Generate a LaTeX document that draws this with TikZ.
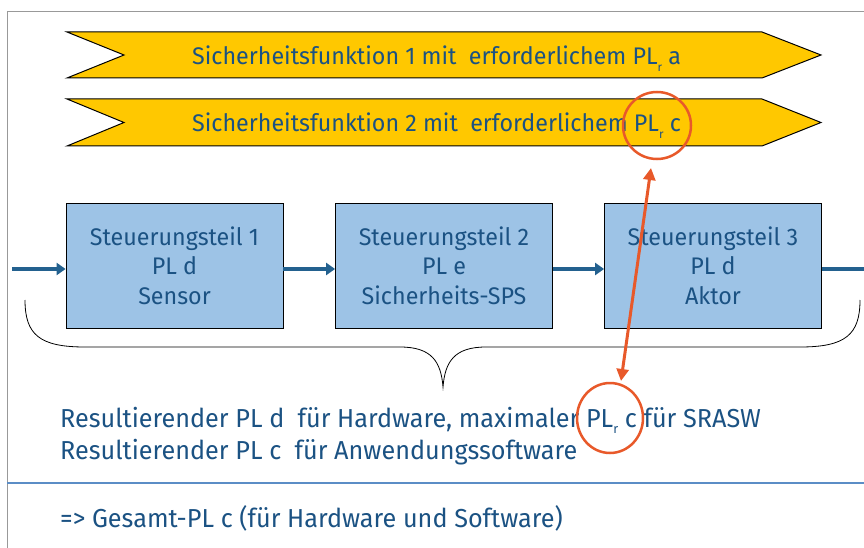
\documentclass[tikz,border=0pt]{standalone}
\usepackage{fontspec}
\setmainfont{Fira Sans}[FakeStretch=0.97]
\usetikzlibrary{shapes.geometric,arrows.meta}
\definecolor{txt}{HTML}{1B5283}
\definecolor{conncol}{HTML}{23618F}
\definecolor{gold}{HTML}{FFC800}
\definecolor{boxfill}{HTML}{9DC3E6}
\definecolor{orng}{HTML}{E8592A}
\definecolor{sep}{HTML}{5B8DC6}
\newcommand{\PLsubr}[1]{PL\raisebox{-0.5ex}{\fontsize{#1}{#1}\selectfont r}}
\tikzset{
  chev/.style={draw=black, fill=gold, line width=1pt},
  chevtext/.style={anchor=base west, text=txt, inner sep=0pt, font=\fontsize{24}{24}\selectfont},
  blockbox/.style={draw=black, line width=0.8pt, fill=boxfill, minimum width=217pt, minimum height=125pt, align=center, text=txt, inner sep=0pt, font=\fontsize{24}{29.5}\selectfont},
  conn/.style={draw=conncol, line width=3.5pt, -{Triangle[length=9pt,width=12pt]}},
  ring/.style={ellipse, draw=orng, line width=2.5pt, inner sep=0pt},
  link/.style={draw=orng, line width=3pt, {Triangle[length=12pt,width=12pt]}-{Triangle[length=12pt,width=12pt]}},
  bodytext/.style={anchor=base west, text=txt, inner sep=0pt, font=\fontsize{26}{26}\selectfont},
}
\begin{document}
\begin{tikzpicture}[x=1pt,y=-1pt]
\useasboundingbox (0,0) rectangle (864,548);
\clip (0,0) rectangle (864,548);
% frame
\draw[gray!80, line width=1pt] (7,548) -- (7,12) -- (864,12);
% chevrons
\draw[chev] (67,32) -- (762,32) -- (821,55) -- (762,78) -- (67,78) -- (124,55) -- cycle;
\draw[chev] (67,99) -- (762,99) -- (821,122.5) -- (762,146) -- (67,146) -- (124,122.5) -- cycle;
\node[chevtext] (sf1) at (192,65) {Sicherheitsfunktion 1 mit\ \ erforderlichem \PLsubr{12}\ a};
\node[chevtext] (sf2) at (192,132) {Sicherheitsfunktion 2 mit\ \ erforderlichem \PLsubr{12}\ c};
% blocks
\node[blockbox] (b1) at (174.5,265.5) {Steuerungsteil 1\\PL d\\Sensor};
\node[blockbox] (b2) at (444,265.5) {Steuerungsteil 2\\PL e\\Sicherheits-SPS};
\node[blockbox] (b3) at (713,265.5) {Steuerungsteil 3\\PL d\\Aktor};
\coordinate (in) at (12,269);
\coordinate (out) at (874,269);
\draw[conn] (in) -- (in -| b1.west);
\draw[conn] ([yshift=-3.5pt]b1.east) -- ([yshift=-3.5pt]b2.west);
\draw[conn] ([yshift=-3.5pt]b2.east) -- ([yshift=-3.5pt]b3.west);
\draw[conn] ([yshift=-3.5pt]b3.east) -- (out);
% brace
\draw[black, line width=0.8pt] (25,300) .. controls (25,335) and (40,347) .. (85,347) -- (400,347) .. controls (432,347) and (441,362) .. (443,387)
  .. controls (445,362) and (454,347) .. (486,347) -- (800,347) .. controls (845,347) and (860,335) .. (860,300);
% texts
\node[bodytext] (r1) at (60,427) {Resultierender PL d\ \ für Hardware, maximaler \PLsubr{13}\ c für SRASW};
\node[bodytext] (r2) at (60,459) {Resultierender PL c\ \ für Anwendungssoftware};
\draw[sep, line width=2pt] (7,483) -- (864,483);
\node[bodytext] (g) at (60,527) {=> Gesamt-PL c (für Hardware und Software)};
% highlight rings
\node[ring, minimum width=68pt, minimum height=67pt] (c1) at (657,125.5) {};
\node[ring, minimum width=66pt, minimum height=70pt] (c2) at (610,418) {};
\coordinate (ot) at (651,168);
\coordinate (ob) at (621,381);
\draw[link] (ob) -- (ot);
\end{tikzpicture}
\end{document}
